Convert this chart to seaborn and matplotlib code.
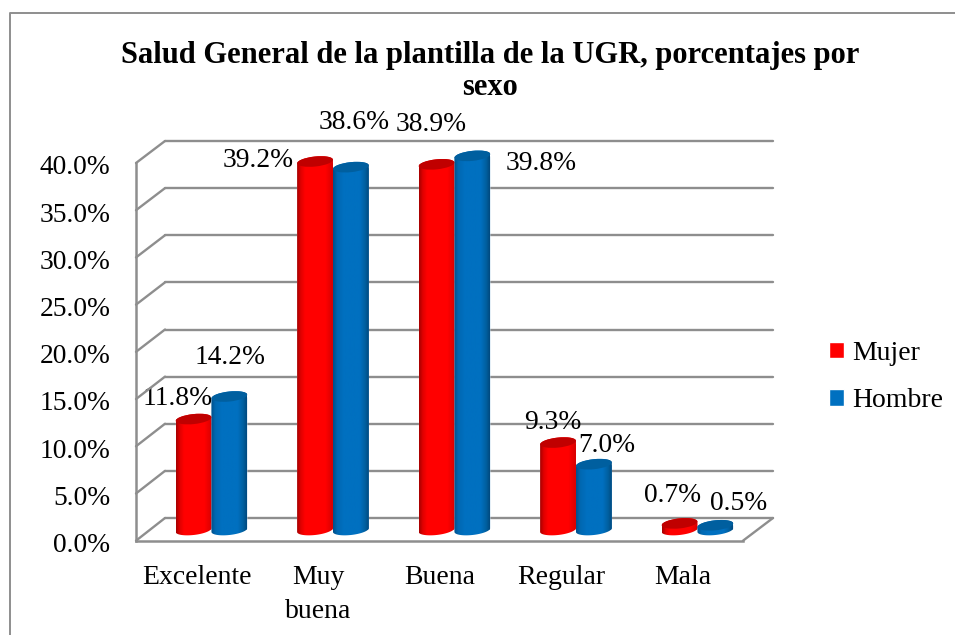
import numpy as np
import pandas as pd
import matplotlib
matplotlib.use('Agg')
import matplotlib.pyplot as plt
import seaborn as sns
from matplotlib.lines import Line2D
from matplotlib.patches import Ellipse, PathPatch
from matplotlib.path import Path
from matplotlib.colors import LinearSegmentedColormap
from matplotlib.transforms import IdentityTransform, ScaledTranslation

# Data
categories = ['Excelente', 'Muy\nbuena', 'Buena', 'Regular', 'Mala']
mujer = [11.8, 39.2, 38.9, 9.3, 0.7]
hombre = [14.2, 38.6, 39.8, 7.0, 0.5]

W, H = 955, 635
GRID = '#8e8e8e'
SERIF = 'Liberation Serif'
sns.set_theme(style='white')
plt.rcParams['font.family'] = [SERIF, 'DejaVu Serif']

df = pd.DataFrame({
    'cat': categories * 2,
    'sexo': ['Mujer'] * 5 + ['Hombre'] * 5,
    'val': mujer + hombre,
})

fig = plt.figure(figsize=(W / 100, H / 100), dpi=100, facecolor='white')


def add_axes(x0, x1, ytop, ybot):
    return fig.add_axes([x0 / W, 1 - ybot / H, (x1 - x0) / W, (ybot - ytop) / H])


# back wall, front plane and bars sit on three axes with the same scale
ax_wall = add_axes(165, 773, 141, 518)
ax_front = add_axes(136, 743, 163, 540.7)
ax_bars = add_axes(150.7, 758.2, 154, 530)

ticks = np.arange(0, 45, 5)

ax_wall.set_ylim(0, 40)
ax_wall.set_xlim(0, 1)
ax_wall.set_xticks([])
ax_wall.set_yticks(ticks)
ax_wall.tick_params(left=False, labelleft=False)
ax_wall.grid(True, axis='y', color=GRID, lw=1.7)
for s in ax_wall.spines.values():
    s.set_visible(False)
for l in ax_wall.get_ygridlines():
    l.set_clip_on(False)

ax_front.patch.set_alpha(0)
ax_front.set_ylim(0, 40)
ax_front.set_xlim(-0.5, 4.5)
ax_front.set_yticks(ticks)
ax_front.set_yticklabels(['%.1f%%' % t for t in ticks])
ax_front.set_xticks(range(5))
ax_front.set_xticklabels(categories, linespacing=1.45)
ax_front.tick_params(axis='y', length=0, pad=18.5, labelsize=19.8, labelcolor='black')
ax_front.tick_params(axis='x', length=0, pad=17.5, labelsize=20, labelcolor='black')
for lab in ax_front.get_yticklabels():
    lab.set_transform(lab.get_transform() + ScaledTranslation(0, -1.3 / 72, fig.dpi_scale_trans))
for s in ['top', 'right']:
    ax_front.spines[s].set_visible(False)
for s in ['left', 'bottom']:
    ax_front.spines[s].set_color(GRID)
    ax_front.spines[s].set_linewidth(1.8)

ax_bars.patch.set_alpha(0)
sns.barplot(data=df, x='cat', y='val', hue='sexo', order=categories,
            hue_order=['Mujer', 'Hombre'],
            palette={'Mujer': '#ff0000', 'Hombre': '#0070c0'},
            width=0.59, gap=0, saturation=1, ax=ax_bars, legend=True)
ax_bars.set_ylim(0, 40)
ax_bars.set_xlim(-0.5, 4.5)
ax_bars.axis('off')
fig.canvas.draw()

# diagonal wall edges from front plane to back wall
for t in ticks:
    p0 = ax_front.transData.transform((-0.5, t))
    p1 = ax_wall.transData.transform((0, t))
    fig.add_artist(Line2D([p0[0], p1[0]], [p0[1], p1[1]], color=GRID, lw=1.7,
                          transform=IdentityTransform()))
p0 = ax_front.transData.transform((4.5, 0))
p1 = ax_wall.transData.transform((1, 0))
fig.add_artist(Line2D([p0[0], p1[0]], [p0[1], p1[1]], color=GRID, lw=1.7,
                      transform=IdentityTransform()))

# cylinder look for the bars
shades = {
    'Mujer': ([(0, '#a80000'), (0.1, '#e00000'), (0.22, '#ff0000'), (0.8, '#ff0000'), (1, '#d80000')],
              '#c00000'),
    'Hombre': ([(0, '#00508a'), (0.12, '#0068b2'), (0.3, '#0070c0'), (0.75, '#0070c0'),
                (0.9, '#0060a0'), (1, '#004a80')], '#005f9f'),
}
TILT = np.deg2rad(6)
RY = 5.0

n_cat = len(categories)
bars = [b for b in ax_bars.patches if b.get_height() > 0]
names = ['Mujer'] * n_cat + ['Hombre'] * n_cat


def ellipse_points(cx, cy, rx, a0, a1):
    a = np.linspace(a0, a1, 40)
    ex, ey = rx * np.cos(a), RY * np.sin(a)
    return np.column_stack([cx + ex, cy + ey + ex * np.tan(TILT)])


for b, name in zip(bars, names):
    x, w, v = b.get_x(), b.get_width(), b.get_height()
    xl, y0 = ax_bars.transData.transform((x, 0))
    xr, y1 = ax_bars.transData.transform((x + w, v))
    cx, rx = (xl + xr) / 2, (xr - xl) / 2
    low = ellipse_points(cx, y0, rx, np.pi, 2 * np.pi)
    top = ellipse_points(cx, y1, rx, 0, np.pi)
    outline = Path(np.vstack([low, top, low[:1]]))
    clip = PathPatch(outline, transform=IdentityTransform(), fc='none', ec='none')
    ax_bars.add_patch(clip)
    b.set_clip_path(clip)
    cmap = LinearSegmentedColormap.from_list(name, shades[name][0])
    im = ax_bars.imshow(np.linspace(0, 1, 64).reshape(1, -1), cmap=cmap, aspect='auto',
                        extent=(x, x + w, -1.5, v + 1.5), zorder=3)
    im.set_clip_path(clip)
    im.set_clip_box(fig.bbox)
    cap = Ellipse((cx, y1), 2 * rx, 2 * RY, angle=np.rad2deg(TILT), fc=shades[name][1],
                  ec='none', transform=IdentityTransform(), zorder=4, clip_on=False)
    ax_bars.add_artist(cap)
ax_bars.set_xlim(-0.5, 4.5)
ax_bars.set_ylim(0, 40)

# hand-placed data labels in the source, offsets in px from each bar top
label_offsets = [(-15.5, 21), (-56.5, 1.5), (-5.5, 40), (-5.5, 19.6), (-7, 28),
                 (1, 39), (3, 45), (69, -8), (13, 19), (23.5, 22)]
for b, (dx, dy) in zip(bars, label_offsets):
    ax_bars.annotate('%.1f%%' % b.get_height(),
                     (b.get_x() + b.get_width() / 2, b.get_height()),
                     xytext=(dx, dy), textcoords='offset pixels', ha='center', va='center',
                     fontsize=19.8, color='black', annotation_clip=False, zorder=6)

# legend
handles, labels = ax_bars.get_legend_handles_labels()
ax_bars.get_legend().remove()
fig.legend(handles, labels, loc='center left', bbox_to_anchor=(829 / W, 1 - 377 / H),
           frameon=False, fontsize=20, handlelength=0.54, handleheight=0.54,
           handletextpad=0.29, labelspacing=0.8, borderpad=0, borderaxespad=0,
           labelcolor='black')

fig.text(490 / W, 1 - 71.5 / H,
         'Salud General de la plantilla de la UGR, porcentajes por\nsexo',
         ha='center', va='center', fontsize=22, fontweight='bold', color='black',
         linespacing=1.18)

# chart frame, only the top and left edges fall inside the picture
fig.add_artist(Line2D([9.5, 9.5, W], [0, H - 12.5, H - 12.5], color=GRID, lw=1.4,
                      transform=IdentityTransform()))

fig.savefig('out.png', dpi=100, facecolor='white')
plt.close()
